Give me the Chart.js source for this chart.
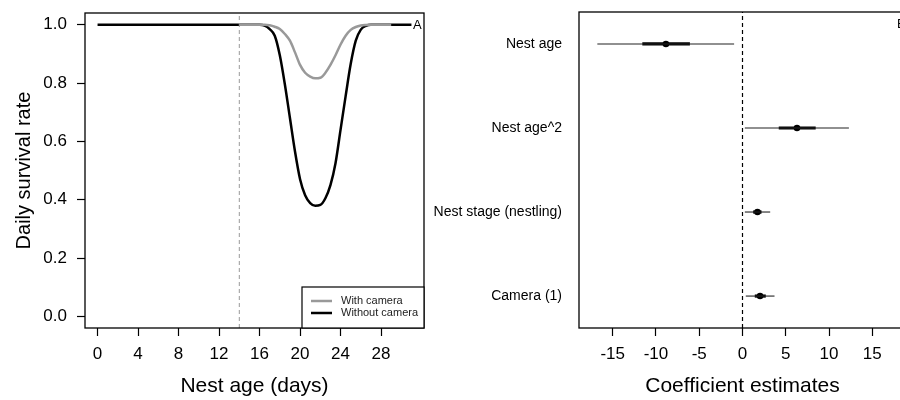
<!DOCTYPE html>
<html>
<head>
<meta charset="utf-8">
<script src="https://cdn.jsdelivr.net/npm/chart.js@4/dist/chart.umd.min.js"></script>
<style>
  html, body { margin: 0; padding: 0; background: #fff; width: 900px; height: 400px; overflow: hidden; }
  #wrapA { position: absolute; left: 0; top: 0; width: 450px; height: 400px; }
  #wrapB { position: absolute; left: 420px; top: 0; width: 490px; height: 400px; }
</style>
</head>
<body>
<div id="wrapA"><canvas id="chartA" width="450" height="400"></canvas></div>
<div id="wrapB"><canvas id="chartB" width="490" height="400"></canvas></div>
<script>
// ---------- Panel A data ----------
const nestAgeDays = [0, 2, 4, 6, 8, 10, 12, 14, 15, 16, 16.5, 17, 17.5, 18, 18.5, 19, 19.5, 20, 20.5, 21, 21.5, 22, 22.5, 23, 23.5, 24, 24.5, 25, 25.5, 26, 26.5, 27, 28, 29, 30, 31];
const withCamera = [null, null, null, null, null, null, null, 1.0, 1.0, 1.0, 1.0, 0.998, 0.993, 0.985, 0.968, 0.945, 0.905, 0.862, 0.835, 0.822, 0.816, 0.818, 0.835, 0.862, 0.895, 0.932, 0.962, 0.982, 0.992, 0.997, 0.999, 1.0, 1.0, 1.0, null, null];
const withoutCamera = [1.0, 1.0, 1.0, 1.0, 1.0, 1.0, 1.0, 1.0, 1.0, 1.0, 0.997, 0.985, 0.962, 0.895, 0.795, 0.68, 0.565, 0.47, 0.415, 0.388, 0.379, 0.382, 0.405, 0.45, 0.525, 0.64, 0.755, 0.865, 0.945, 0.983, 0.996, 1.0, 1.0, 1.0, 1.0, 1.0];
const seriesNames = ['With camera', 'Without camera'];
const xTickValues = [0, 4, 8, 12, 16, 20, 24, 28];
const yTickValues = [0, 0.2, 0.4, 0.6, 0.8, 1.0];
const stageBoundaryDay = 14;

// ---------- Panel B data ----------
const terms = ['Nest age', 'Nest age^2', 'Nest stage (nestling)', 'Camera (1)'];
const estimate = [-8.85, 6.3, 1.73, 2.03];
const outerLow = [-16.78, 0.27, 0.27, 0.38];
const outerHigh = [-0.97, 12.3, 3.2, 3.7];
const innerLow = [-11.58, 4.19, 1.23, 1.42];
const innerHigh = [-6.08, 8.46, 2.2, 2.69];
const coefTickValues = [-15, -10, -5, 0, 5, 10, 15];

Chart.defaults.font.family = "'Liberation Sans', Arial, sans-serif";
Chart.defaults.color = '#000';

const boxPlugin = {
  id: 'box',
  afterDatasetsDraw(chart, args, opts) {
    const a = chart.chartArea, ctx = chart.ctx;
    ctx.save();
    ctx.strokeStyle = '#000';
    ctx.lineWidth = 1.3;
    ctx.strokeRect(a.left, a.top, a.right - a.left, a.bottom - a.top);
    if (opts.letter) {
      ctx.fillStyle = '#000';
      ctx.font = "13px 'Liberation Sans', Arial, sans-serif";
      ctx.textBaseline = 'middle';
      ctx.textAlign = 'left';
      ctx.fillText(opts.letter, a.left + opts.letterDx, a.top + opts.letterDy);
    }
    ctx.restore();
  }
};

const legendPlugin = {
  id: 'boxLegend',
  afterDatasetsDraw(chart) {
    const a = chart.chartArea, ctx = chart.ctx;
    const w = 122, h = 41;
    const x0 = a.right - w, y0 = a.bottom - h;
    ctx.save();
    ctx.fillStyle = '#fff';
    ctx.fillRect(x0, y0, w, h);
    ctx.strokeStyle = '#000';
    ctx.lineWidth = 1.2;
    ctx.strokeRect(x0, y0, w, h);
    ctx.font = "11px 'Liberation Sans', Arial, sans-serif";
    ctx.textBaseline = 'middle';
    ctx.textAlign = 'left';
    const items = chart.data.datasets.filter(d => seriesNames.includes(d.label));
    items.forEach((d, i) => {
      const yy = y0 + 14 + i * 12;
      ctx.strokeStyle = d.borderColor;
      ctx.lineWidth = d.borderWidth;
      ctx.beginPath();
      ctx.moveTo(x0 + 9, yy);
      ctx.lineTo(x0 + 30, yy);
      ctx.stroke();
      ctx.fillStyle = '#222';
      ctx.fillText(d.label, x0 + 39, yy);
    });
    ctx.restore();
  }
};

const noPadY = (w) => (s) => { s.width = w; s.paddingTop = 0; s.paddingBottom = 0; };
const noPadX = (h) => (s) => { s.height = h; s.paddingLeft = 0; s.paddingRight = 0; };

const toPoints = (xs, ys) => xs.map((x, i) => ({ x: x, y: ys[i] })).filter(p => p.y !== null);

new Chart(document.getElementById('chartA'), {
  type: 'line',
  data: {
    datasets: [
      {
        label: 'boundary',
        data: [{ x: stageBoundaryDay, y: -0.04 }, { x: stageBoundaryDay, y: 1.04 }],
        borderColor: '#999', borderWidth: 1, borderDash: [4, 3], pointRadius: 0
      },
      {
        label: seriesNames[0],
        data: toPoints(nestAgeDays, withCamera),
        borderColor: '#999999', borderWidth: 2.5, pointRadius: 0,
        cubicInterpolationMode: 'monotone'
      },
      {
        label: seriesNames[1],
        data: toPoints(nestAgeDays, withoutCamera),
        borderColor: '#000000', borderWidth: 2.5, pointRadius: 0,
        cubicInterpolationMode: 'monotone'
      }
    ]
  },
  options: {
    responsive: false, animation: false, devicePixelRatio: 1,
    layout: { padding: { top: 13, right: 26, left: 0, bottom: 0 } },
    plugins: { legend: { display: false }, tooltip: { enabled: false },
               box: { letter: 'A', letterDx: 328, letterDy: 12 } },
    scales: {
      x: {
        type: 'linear', min: -1.24, max: 32.24,
        afterBuildTicks: s => { s.ticks = xTickValues.map(v => ({ value: v })); },
        afterFit: noPadX(72),
        grid: { drawOnChartArea: false, tickLength: 8, tickColor: '#000', tickWidth: 1.2 },
        border: { display: false },
        ticks: { font: { size: 17 }, color: '#000', padding: 8, maxRotation: 0, autoSkip: false,
                 callback: v => String(v) },
        title: { display: true, text: 'Nest age (days)', font: { size: 21 }, color: '#000',
                 padding: { top: 0, bottom: 1 } }
      },
      y: {
        type: 'linear', min: -0.04, max: 1.04,
        afterBuildTicks: s => { s.ticks = yTickValues.map(v => ({ value: v })); },
        afterFit: noPadY(85),
        grid: { drawOnChartArea: false, tickLength: 8, tickColor: '#000', tickWidth: 1.2 },
        border: { display: false },
        ticks: { font: { size: 17 }, color: '#000', padding: 10, autoSkip: false,
                 callback: v => v.toFixed(1) },
        title: { display: true, text: 'Daily survival rate', font: { size: 20 }, color: '#000',
                 padding: { top: 12, bottom: 0 } }
      }
    }
  },
  plugins: [boxPlugin, legendPlugin]
});

const rowPos = terms.map((t, i) => terms.length - i);
const seg = (lo, hi) => rowPos.map((p, i) => ({
  data: [{ x: lo[i], y: p }, { x: hi[i], y: p }]
}));

new Chart(document.getElementById('chartB'), {
  type: 'scatter',
  data: {
    datasets: [
      {
        label: 'zero',
        data: [{ x: 0, y: 0.62 }, { x: 0, y: 4.38 }],
        showLine: true, borderColor: '#000', borderWidth: 1.2, borderDash: [4, 3], pointRadius: 0
      },
      ...seg(outerLow, outerHigh).map(d => Object.assign(d, {
        label: 'outer', showLine: true, borderColor: '#222', borderWidth: 1.1, pointRadius: 0
      })),
      ...seg(innerLow, innerHigh).map(d => Object.assign(d, {
        label: 'inner', showLine: true, borderColor: '#000', borderWidth: 3.2, pointRadius: 0
      })),
      {
        label: 'estimate',
        data: estimate.map((e, i) => ({ x: e, y: rowPos[i] })),
        pointRadius: 3.3, backgroundColor: '#000', borderColor: '#000', borderWidth: 0
      }
    ]
  },
  options: {
    responsive: false, animation: false, devicePixelRatio: 1,
    layout: { padding: { top: 12, right: 3.5, left: 0, bottom: 0 } },
    plugins: { legend: { display: false }, tooltip: { enabled: false },
               box: { letter: 'B', letterDx: 318, letterDy: 12 } },
    scales: {
      x: {
        type: 'linear', min: -18.9, max: 18.9,
        afterBuildTicks: s => { s.ticks = coefTickValues.map(v => ({ value: v })); },
        afterFit: noPadX(72),
        grid: { drawOnChartArea: false, tickLength: 8, tickColor: '#000', tickWidth: 1.2 },
        border: { display: false },
        ticks: { font: { size: 17 }, color: '#000', padding: 8, maxRotation: 0, autoSkip: false,
                 callback: v => String(v) },
        title: { display: true, text: 'Coefficient estimates', font: { size: 21 }, color: '#000',
                 padding: { top: 0, bottom: 1 } }
      },
      y: {
        type: 'linear', min: 0.62, max: 4.38,
        afterBuildTicks: s => { s.ticks = rowPos.map(v => ({ value: v })); },
        afterFit: noPadY(159),
        grid: { drawOnChartArea: false, drawTicks: false },
        border: { display: false },
        ticks: { font: { size: 14 }, color: '#000', padding: 17, autoSkip: false,
                 callback: v => terms[terms.length - v] }
      }
    }
  },
  plugins: [boxPlugin]
});
</script>
</body>
</html>
